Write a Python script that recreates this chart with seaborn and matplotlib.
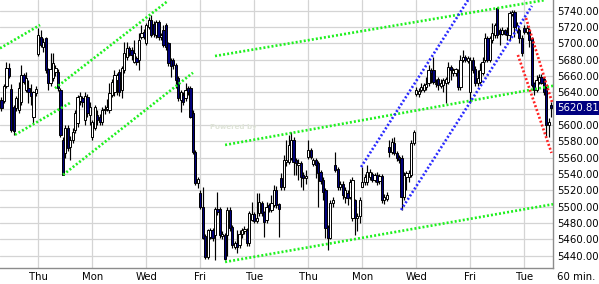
import matplotlib
matplotlib.use("Agg")
import matplotlib.pyplot as plt
import matplotlib.transforms as mtransforms
import seaborn as sns
import numpy as np
import pandas as pd

sns.set_theme(style="white")
plt.rcParams['font.family'] = ['DejaVu Sans']

# ---------------- data (60-min OHLC bars) ----------------
opens = [5631, 5629, 5648, 5670, 5644, 5622, 5621, 5618, 5628, 5661, 5643, 5645, 5641, 5610, 5639,
         5687, 5708, 5695, 5706, 5668, 5651, 5657, 5665, 5665, 5643, 5582,
         5566, 5596, 5573, 5582, 5594, 5602, 5630, 5633, 5606, 5634, 5612,
         5585, 5596, 5612, 5610, 5604, 5618, 5620, 5618, 5637, 5640, 5655,
         5665, 5643, 5667, 5683, 5694, 5692, 5677, 5682, 5680, 5708, 5714,
         5700, 5720, 5729, 5724, 5710, 5726, 5708, 5716, 5722, 5700, 5680,
         5680, 5673, 5658, 5631, 5637, 5633, 5645, 5645, 5615, 5567, 5529,
         5517, 5500, 5464, 5438, 5463, 5471, 5465, 5497, 5497, 5464, 5465,
         5465, 5496, 5475, 5451, 5455, 5453, 5466, 5470, 5471, 5455, 5484,
         5491, 5482, 5492, 5504, 5493, 5484, 5502, 5496, 5502, 5521, 5503,
         5535, 5524, 5555, 5555, 5560, 5582, 5557, 5551, 5553, 5539, 5535,
         5561, 5569, 5552, 5557, 5553, 5542, 5533, 5520, 5475, 5462, 5504,
         5551, 5546, 5524, 5528, 5512, 5517, 5512, 5486, 5508, 5486, 5488,
         5524, 5530, 5530, 5536, 5540, 5533, 5539, 5532, 5537, 5508, 5510,
         5573, 5567, 5578, 5566, 5561, 5560, 5512, 5536, 5536, 5539, 5578,
         5638, 5638, 5643, 5643, 5646, 5651, 5667, 5667, 5650, 5656, 5648,
         5649, 5652, 5653, 5671, 5664, 5664, 5665, 5646, 5680, 5683, 5679,
         5640, 5680, 5669, 5651, 5653, 5664, 5680, 5706, 5680, 5704, 5710,
         5743, 5716, 5712, 5716, 5714, 5710, 5736, 5738, 5716, 5716, 5707,
         5719, 5714, 5716, 5706, 5651, 5643, 5653, 5659, 5656, 5645, 5600, 5624]
highs = [5634, 5650, 5677, 5676, 5650, 5625, 5636, 5653, 5673, 5664, 5665, 5655, 5650, 5642, 5648,
         5719, 5716, 5706, 5708, 5670, 5688, 5688, 5673, 5668, 5645, 5585,
         5600, 5600, 5586, 5596, 5618, 5637, 5640, 5636, 5640, 5638, 5628,
         5606, 5624, 5618, 5614, 5622, 5624, 5632, 5651, 5656, 5667, 5664,
         5668, 5672, 5702, 5702, 5697, 5695, 5704, 5685, 5713, 5722, 5717,
         5725, 5732, 5735, 5727, 5728, 5729, 5713, 5722, 5725, 5702, 5682,
         5682, 5676, 5660, 5643, 5640, 5651, 5648, 5648, 5618, 5570, 5536,
         5520, 5524, 5466, 5473, 5474, 5474, 5500, 5518, 5500, 5470, 5468,
         5500, 5500, 5478, 5458, 5471, 5472, 5474, 5476, 5474, 5495, 5506,
         5494, 5517, 5517, 5507, 5495, 5506, 5505, 5514, 5527, 5525, 5505,
         5541, 5563, 5582, 5588, 5591, 5585, 5560, 5558, 5556, 5542, 5545,
         5582, 5572, 5560, 5560, 5556, 5545, 5536, 5523, 5478, 5508, 5512,
         5567, 5549, 5531, 5531, 5524, 5520, 5534, 5536, 5510, 5492, 5512,
         5548, 5540, 5551, 5546, 5543, 5541, 5542, 5540, 5540, 5516, 5518,
         5582, 5584, 5585, 5568, 5563, 5563, 5542, 5544, 5545, 5582, 5594,
         5646, 5645, 5651, 5652, 5659, 5673, 5670, 5683, 5656, 5659, 5656,
         5658, 5659, 5677, 5674, 5670, 5670, 5668, 5686, 5692, 5686, 5685,
         5683, 5683, 5672, 5667, 5676, 5683, 5713, 5709, 5709, 5725, 5725,
         5745, 5719, 5720, 5718, 5720, 5740, 5741, 5741, 5726, 5719, 5710,
         5722, 5723, 5719, 5708, 5653, 5661, 5662, 5662, 5659, 5648, 5608, 5628]
lows = [5617, 5627, 5645, 5658, 5592, 5588, 5617, 5615, 5625, 5650, 5640, 5627, 5625, 5602, 5636,
        5685, 5695, 5690, 5664, 5643, 5648, 5654, 5660, 5642, 5585, 5539,
        5560, 5568, 5557, 5578, 5590, 5598, 5625, 5622, 5600, 5610, 5600,
        5582, 5594, 5600, 5600, 5600, 5614, 5617, 5615, 5634, 5636, 5637,
        5636, 5633, 5664, 5680, 5685, 5680, 5676, 5673, 5667, 5705, 5705,
        5698, 5717, 5708, 5708, 5706, 5704, 5704, 5695, 5692, 5672, 5659,
        5668, 5645, 5630, 5616, 5625, 5630, 5637, 5608, 5565, 5527, 5523,
        5497, 5460, 5436, 5436, 5460, 5458, 5435, 5490, 5462, 5460, 5435,
        5440, 5470, 5450, 5448, 5443, 5450, 5462, 5467, 5452, 5452, 5482,
        5480, 5480, 5489, 5489, 5463, 5480, 5494, 5494, 5500, 5498, 5463,
        5521, 5520, 5550, 5552, 5557, 5539, 5539, 5533, 5524, 5520, 5528,
        5558, 5558, 5550, 5535, 5500, 5528, 5508, 5462, 5447, 5460, 5500,
        5542, 5520, 5521, 5510, 5505, 5502, 5509, 5483, 5465, 5470, 5480,
        5524, 5527, 5527, 5533, 5530, 5530, 5527, 5528, 5504, 5503, 5507,
        5561, 5564, 5563, 5556, 5554, 5496, 5508, 5520, 5530, 5536, 5575,
        5635, 5634, 5640, 5640, 5643, 5648, 5651, 5650, 5647, 5643, 5645,
        5640, 5627, 5650, 5655, 5660, 5660, 5643, 5643, 5677, 5677, 5676,
        5627, 5664, 5648, 5648, 5650, 5661, 5677, 5677, 5677, 5700, 5707,
        5707, 5698, 5710, 5710, 5704, 5704, 5733, 5708, 5713, 5700, 5684,
        5711, 5711, 5695, 5646, 5637, 5640, 5650, 5650, 5637, 5585, 5585, 5610]
closes = [5621, 5648, 5670, 5660, 5594, 5593, 5633, 5645, 5661, 5653, 5657, 5641, 5636, 5640, 5644,
          5710, 5698, 5702, 5667, 5651, 5668, 5676, 5670, 5645, 5588, 5539,
          5596, 5572, 5582, 5592, 5615, 5634, 5636, 5628, 5636, 5615, 5622,
          5604, 5622, 5606, 5604, 5618, 5620, 5622, 5639, 5653, 5661, 5661,
          5640, 5670, 5688, 5694, 5688, 5686, 5688, 5677, 5704, 5713, 5708,
          5722, 5729, 5710, 5712, 5726, 5708, 5710, 5698, 5695, 5676, 5672,
          5673, 5655, 5633, 5640, 5628, 5643, 5640, 5610, 5567, 5529, 5534,
          5500, 5462, 5438, 5471, 5471, 5462, 5497, 5494, 5465, 5467, 5436,
          5496, 5474, 5453, 5455, 5451, 5467, 5471, 5473, 5455, 5492, 5491,
          5483, 5486, 5506, 5492, 5481, 5500, 5498, 5504, 5521, 5502, 5497,
          5524, 5557, 5557, 5575, 5582, 5555, 5553, 5554, 5536, 5535, 5537,
          5569, 5561, 5557, 5551, 5541, 5531, 5518, 5474, 5462, 5504, 5508,
          5545, 5524, 5528, 5514, 5521, 5511, 5530, 5533, 5486, 5489, 5508,
          5530, 5536, 5542, 5542, 5533, 5539, 5530, 5537, 5508, 5512, 5514,
          5567, 5579, 5566, 5560, 5557, 5512, 5539, 5541, 5541, 5578, 5591,
          5643, 5642, 5647, 5649, 5650, 5667, 5664, 5653, 5652, 5649, 5652,
          5655, 5656, 5671, 5667, 5667, 5668, 5646, 5680, 5683, 5680, 5682,
          5680, 5667, 5651, 5657, 5667, 5677, 5706, 5680, 5706, 5713, 5722,
          5710, 5712, 5716, 5712, 5710, 5737, 5738, 5720, 5723, 5706, 5688,
          5714, 5719, 5704, 5649, 5643, 5655, 5659, 5652, 5640, 5600, 5604, 5620.81]

day_labels = ["Thu", "Mon", "Wed", "Fri", "Tue", "Thu", "Mon", "Wed", "Fri", "Tue"]
day_label_bars = [15, 37, 59, 81, 103, 125, 147, 169, 191, 213]
price_ticks = list(range(5440, 5741, 20))
last_price = 5620.81
interval_label = "60 min."

# trend lines: (start bar, start price, end bar, end price)
trend_names = ["G1", "G2", "G3", "G4", "G5", "G6", "G7", "B1", "B2", "R1", "R2"]
trend_x0 = [-0.6, 5.5, 21.8, 25.1, 87.0, 91.1, 91.1, 146.5, 162.8, 213.7, 210.4]
trend_y0 = [5694, 5588, 5645, 5539, 5684.5, 5575.6, 5432.3, 5548.6, 5496, 5731, 5685.8]
trend_x1 = [15.7, 27.9, 67.8, 78.0, 221.4, 224.7, 224.7, 190.1, 216.1, 224.3, 224.1]
trend_y1 = [5722.5, 5627, 5752, 5664, 5753, 5648, 5503, 5753, 5745.8, 5628, 5565.8]
trend_kind = ["g", "g", "g", "g", "g", "g", "g", "b", "b", "r", "r"]
kind_color = {"g": "#1ef01e", "b": "#2a2aff", "r": "#ff2222"}

# ---------------- figure ----------------
W, H = 599, 284
fig = plt.figure(figsize=(W / 100, H / 100), dpi=100)
fig.patch.set_facecolor("white")
ax = fig.add_axes([0, 16 / H, 553 / W, 268 / H])
ax.set_facecolor("white")

n = len(closes)
idx = np.arange(n)
o = np.array(opens, float)
h = np.array(highs, float)
l = np.array(lows, float)
c = np.array(closes, float)

ax.set_xlim(-0.61, 224.7)
ax.set_ylim(5424.9, 5753.1)

# gridlines
ax.set_axisbelow(True)
ax.grid(True, color="#d4d4d4", linewidth=0.9)

# wicks
ax.vlines(idx, l, h, color="black", linewidth=0.85, zorder=2)
# bodies
up = c >= o
bottoms = np.minimum(o, c)
heights = np.maximum(np.abs(c - o), 1.0)
ax.bar(idx[up], heights[up], bottom=bottoms[up], width=0.9, color="white",
       edgecolor="black", linewidth=0.7, zorder=3)
ax.bar(idx[~up], heights[~up], bottom=bottoms[~up], width=0.9, color="#00007a",
       edgecolor="black", linewidth=0.7, zorder=3)

# trend lines via seaborn
for i, name in enumerate(trend_names):
    df = pd.DataFrame({"bar": [trend_x0[i], trend_x1[i]],
                       "price": [trend_y0[i], trend_y1[i]]})
    sns.lineplot(data=df, x="bar", y="price", ax=ax, color=kind_color[trend_kind[i]],
                 linewidth=1.9, sort=False, zorder=5)
    ln = ax.lines[-1]
    ln.set_linestyle((0, (0.75, 0.8)))
    ln.set_dash_capstyle("butt")

# watermark
ax.text(85, 5598, "Powered by", fontsize=5, color="#dfe4d8", fontweight="bold",
        ha="left", va="center", zorder=1)

# axes styling
for s in ["left", "top"]:
    ax.spines[s].set_visible(False)
for s in ["right", "bottom"]:
    ax.spines[s].set_visible(True)
    ax.spines[s].set_color("#8c8c8c")
    ax.spines[s].set_linewidth(1.0)

ax.yaxis.tick_right()
ax.set_yticks(price_ticks)
ax.set_yticklabels([f"{v:.2f}" for v in price_ticks])
ax.set_xticks(day_label_bars)
ax.set_xticklabels(day_labels)
ax.tick_params(axis="y", length=0, pad=3, labelsize=7.3, colors="black")
ax.tick_params(axis="x", length=0, pad=3, labelsize=7.3, colors="black")
ax.set_xlabel("")
ax.set_ylabel("")

# last price box
trans = mtransforms.blended_transform_factory(ax.transAxes, ax.transData)
ax.text(1.008, last_price, f"{last_price:.2f}", transform=trans, ha="left", va="center",
        fontsize=7.3, color="white", zorder=10, clip_on=False,
        bbox=dict(boxstyle="square,pad=0.18", fc="#000080", ec="none"))

# interval label
fig.text(557 / W, 1 - 277 / H, interval_label, ha="left", va="center", fontsize=7.3,
         color="black")

fig.savefig("out.png", dpi=100)
